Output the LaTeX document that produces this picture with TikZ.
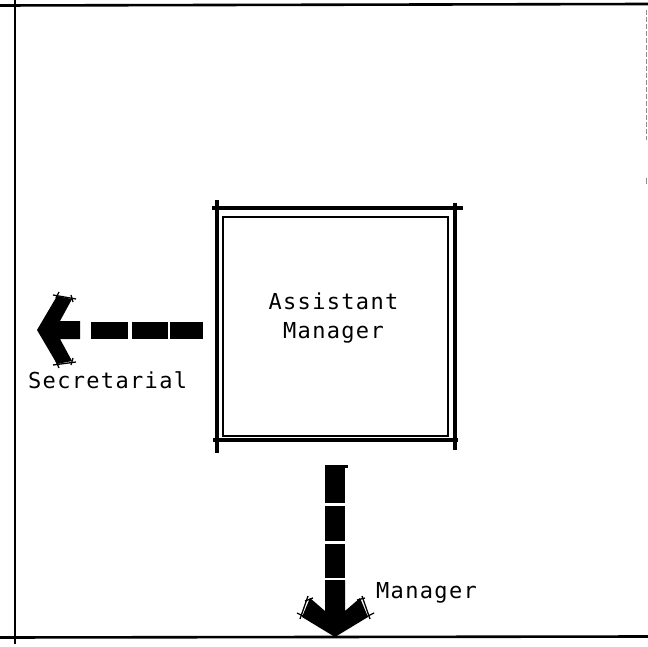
\documentclass[tikz,border=0pt]{standalone}
\usepackage{fontspec}
\newfontfamily\typew[LetterSpace=6]{DejaVu Sans Mono}
\begin{document}
\begin{tikzpicture}[x=1pt,y=-1pt,
  lbl/.style={font=\typew\fontsize{22}{29}\selectfont, inner sep=0pt},
  frameline/.style={line width=2.6pt, black},
  boxline/.style={line width=4.4pt, black},
  innerline/.style={line width=1.5pt, black},
  dashpart/.style={fill=black},
  tick/.style={line width=1.3pt, black}]
\useasboundingbox (0,0) rectangle (648,647);
% outer frame
\draw[frameline] (0,5.5) -- (648,4);
\draw[frameline] (15,0) -- (15,644);
\draw[frameline] (0,637.5) -- (648,636.5);
\draw[line width=0.8pt, black!45, dash pattern=on 5pt off 2pt] (646.5,10) -- (646.5,140);
\draw[line width=0.8pt, black!45] (646.5,178) -- (646.5,184);
% box
\node[draw, innerline, minimum width=225pt, minimum height=219pt, inner sep=0pt] (am) at (335.5,326.5) {};
\draw[boxline] (212,208) -- (463,208);
\draw[boxline] (213,440) -- (458,440);
\draw[boxline] (217,200) -- (217,453);
\draw[boxline] (455,203) -- (455,450);
\node[lbl, align=center, anchor=base] (amtext) at (333.5,338) {Assistant\\Manager};
% left arrow (Secretarial)
\coordinate (lsrc) at (203,330);
\fill[dashpart] (170,322) rectangle (lsrc |- 0,339);
\fill[dashpart] (132,322) rectangle (168,339);
\fill[dashpart] (91,322) rectangle (128,339);
\coordinate (ltip) at (37,330);
\fill (ltip) -- (57,296) -- (72,299) -- (60,321) -- (80,321) -- (80,339) -- (60,339) -- (72,361) -- (57,364) -- cycle;
\draw[tick] (53,295) -- (76,299);
\draw[tick] (59,292) -- (56,298);
\draw[tick] (71,295) -- (73,302);
\draw[tick] (53,365) -- (76,362);
\draw[tick] (56,361) -- (59,368);
\draw[tick] (73,358) -- (71,365);
\node[lbl, anchor=base west] (sec) at (28,388) {Secretarial};
% down arrow (Manager)
\coordinate (dsrc) at (335,465);
\fill[dashpart] (325,465) rectangle (345,503);
\fill[dashpart] (345,465) rectangle (348,468);
\fill[dashpart] (325,506) rectangle (345,541);
\fill[dashpart] (325,544) rectangle (345,578);
\coordinate (dtip) at (335,637);
\fill (dtip) -- (302,617) -- (310,598) -- (325,611) -- (325,580) -- (345,580) -- (345,611) -- (360,598) -- (368,617) -- cycle;
\draw[tick] (308,596) -- (300,619);
\draw[tick] (305,601) -- (313,598);
\draw[tick] (297,613) -- (305,617);
\draw[tick] (362,596) -- (370,619);
\draw[tick] (357,600) -- (365,598);
\draw[tick] (366,617) -- (374,613);
\node[lbl, anchor=base west] (mgr) at (376,598) {Manager};
\end{tikzpicture}
\end{document}
